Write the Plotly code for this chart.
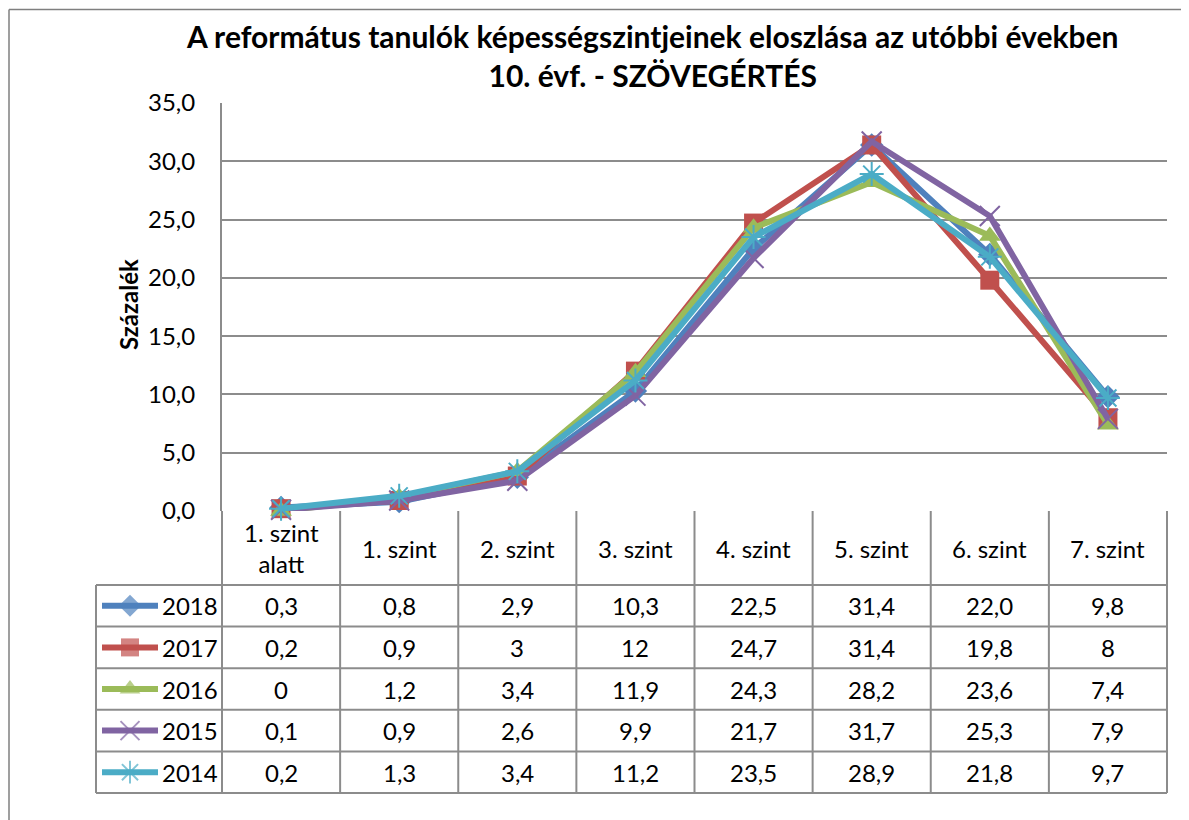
import plotly.graph_objects as go

categories = ["1. szint<br>alatt", "1. szint", "2. szint", "3. szint", "4. szint", "5. szint", "6. szint", "7. szint"]
years = ["2018", "2017", "2016", "2015", "2014"]
v2018 = [0.3, 0.8, 2.9, 10.3, 22.5, 31.4, 22.0, 9.8]
v2017 = [0.2, 0.9, 3, 12, 24.7, 31.4, 19.8, 8]
v2016 = [0, 1.2, 3.4, 11.9, 24.3, 28.2, 23.6, 7.4]
v2015 = [0.1, 0.9, 2.6, 9.9, 21.7, 31.7, 25.3, 7.9]
v2014 = [0.2, 1.3, 3.4, 11.2, 23.5, 28.9, 21.8, 9.7]
fixed_decimals = [True, False, False, False, False]
y_ticks = [0, 5, 10, 15, 20, 25, 30, 35]
y_ticktext = ["0,0", "5,0", "10,0", "15,0", "20,0", "25,0", "30,0", "35,0"]
title_text = "A református tanulók képességszintjeinek eloszlása az utóbbi években<br>10. évf. - SZÖVEGÉRTÉS"
y_title = "Százalék"

series = [v2018, v2017, v2016, v2015, v2014]
colors = ["#4F81BD", "#C0504D", "#9BBB59", "#8064A2", "#4BACC6"]
symbols = ["diamond", "square", "triangle-up", "x-thin-open", "asterisk-open"]
msizes = [18, 19, 19, 20, 20]

OFF = 8  # page body margin
W, H = 1189 - OFF, 820 - OFF
FONT = "Lato"
GRID = "#8C8C8C"
FS = 24


def px(x):
    return (x - OFF) / W


def py(y):
    return 1 - (y - OFF) / H


# layout geometry (page pixels)
PL, PR, PT, PB = 222, 1167, 103, 511
TL = 96
ROW_TOP = 585
ROW_BOT = 793
ncat = len(categories)
colw = (PR - PL) / ncat
rowh = (ROW_BOT - ROW_TOP) / len(years)

fig = go.Figure()

for name, vals, c, s, ms in zip(years, series, colors, symbols, msizes):
    open_sym = s.endswith("open")
    fig.add_trace(go.Scatter(
        x=list(range(ncat)), y=vals, name=name, mode="lines+markers",
        line=dict(color=c, width=6),
        marker=dict(symbol=s, size=ms, color=c,
                    line=dict(color=c, width=2 if open_sym else 0)),
        cliponaxis=False, showlegend=False, xaxis="x", yaxis="y",
    ))

# legend keys inside the table (secondary axes in pixel-like units)
for i, (name, c, s, ms) in enumerate(zip(years, colors, symbols, msizes)):
    open_sym = s.endswith("open")
    fig.add_trace(go.Scatter(
        x=[6, 34, 62], y=[i + 0.5] * 3, mode="lines+markers",
        line=dict(color=c, width=6),
        marker=dict(symbol=s, size=[0, ms - 1, 0], color=c,
                    line=dict(color=c, width=2 if open_sym else 0)),
        cliponaxis=False, showlegend=False, xaxis="x2", yaxis="y2",
        hoverinfo="skip",
    ))

shapes = []
line_style = dict(color=GRID, width=2)
# vertical lines of table
for k in range(ncat + 1):
    x = PL + k * colw
    shapes.append(dict(type="line", xref="paper", yref="paper",
                       x0=px(x), x1=px(x), y0=py(PB), y1=py(ROW_BOT), line=line_style, layer="below"))
shapes.append(dict(type="line", xref="paper", yref="paper",
                   x0=px(TL), x1=px(TL), y0=py(ROW_TOP), y1=py(ROW_BOT), line=line_style))
# horizontal lines of table
for r in range(len(years) + 1):
    y = ROW_TOP + r * rowh
    shapes.append(dict(type="line", xref="paper", yref="paper",
                       x0=px(TL), x1=px(PR), y0=py(y), y1=py(y), line=line_style))
# outer chart border (left and top visible)
shapes.append(dict(type="line", xref="paper", yref="paper",
                   x0=px(9), x1=px(1189), y0=py(9.5), y1=py(9.5),
                   line=dict(color="#7F7F7F", width=1.5)))
shapes.append(dict(type="line", xref="paper", yref="paper",
                   x0=px(9), x1=px(9), y0=py(9.5), y1=py(820),
                   line=dict(color="#7F7F7F", width=1.5)))

annotations = []
# title
annotations.append(dict(text="<b>" + title_text + "</b>", xref="paper", yref="paper",
                        x=px(652), y=py(55), xanchor="center", yanchor="middle",
                        showarrow=False, font=dict(family=FONT, size=30, color="black")))
# y-axis title
annotations.append(dict(text="<b>" + y_title + "</b>", xref="paper", yref="paper",
                        x=px(128), y=py(305), xanchor="center", yanchor="middle", textangle=-90,
                        showarrow=False, font=dict(family=FONT, size=24, color="black")))
# header row
for k, cat in enumerate(categories):
    annotations.append(dict(text=cat, xref="paper", yref="paper",
                            x=px(PL + (k + 0.5) * colw), y=py((PB + ROW_TOP) / 2),
                            xanchor="center", yanchor="middle", showarrow=False,
                            font=dict(family=FONT, size=FS, color="black")))


def fmt(v, fixed):
    s = f"{v:.1f}" if fixed else f"{v:g}"
    return s.replace(".", ",")


for i, (name, vals, fixed) in enumerate(zip(years, series, fixed_decimals)):
    yc = ROW_TOP + (i + 0.5) * rowh
    annotations.append(dict(text=name, xref="paper", yref="paper",
                            x=px(TL + 64), y=py(yc), xanchor="left", yanchor="middle",
                            showarrow=False, font=dict(family=FONT, size=FS, color="black")))
    for k, v in enumerate(vals):
        annotations.append(dict(text=fmt(v, fixed), xref="paper", yref="paper",
                                x=px(PL + (k + 0.5) * colw), y=py(yc), xanchor="center",
                                yanchor="middle", showarrow=False,
                                font=dict(family=FONT, size=FS, color="black")))

fig.update_layout(
    width=W, height=H,
    margin=dict(l=0, r=0, t=0, b=0, pad=0, autoexpand=False),
    paper_bgcolor="white", plot_bgcolor="white",
    xaxis=dict(domain=[px(PL), px(PR)], range=[-0.5, ncat - 0.5],
               showgrid=False, zeroline=False, showticklabels=False, ticks="",
               showline=False, fixedrange=True, automargin=False),
    yaxis=dict(domain=[py(PB), py(PT)], range=[0, 35], tickvals=y_ticks, ticktext=y_ticktext,
               showgrid=True, gridcolor=GRID, gridwidth=2, zeroline=False,
               showline=True, linecolor=GRID, linewidth=2, ticks="",
               ticklabelstandoff=20, automargin=False,
               tickfont=dict(family=FONT, size=FS, color="black")),
    xaxis2=dict(domain=[px(TL), px(PL)], range=[0, PL - TL], visible=False, anchor="y2",
                automargin=False),
    yaxis2=dict(domain=[py(ROW_BOT), py(ROW_TOP)], range=[len(years), 0], visible=False,
                anchor="x2", automargin=False),
    shapes=shapes, annotations=annotations,
)

fig.write_html("out.html")
